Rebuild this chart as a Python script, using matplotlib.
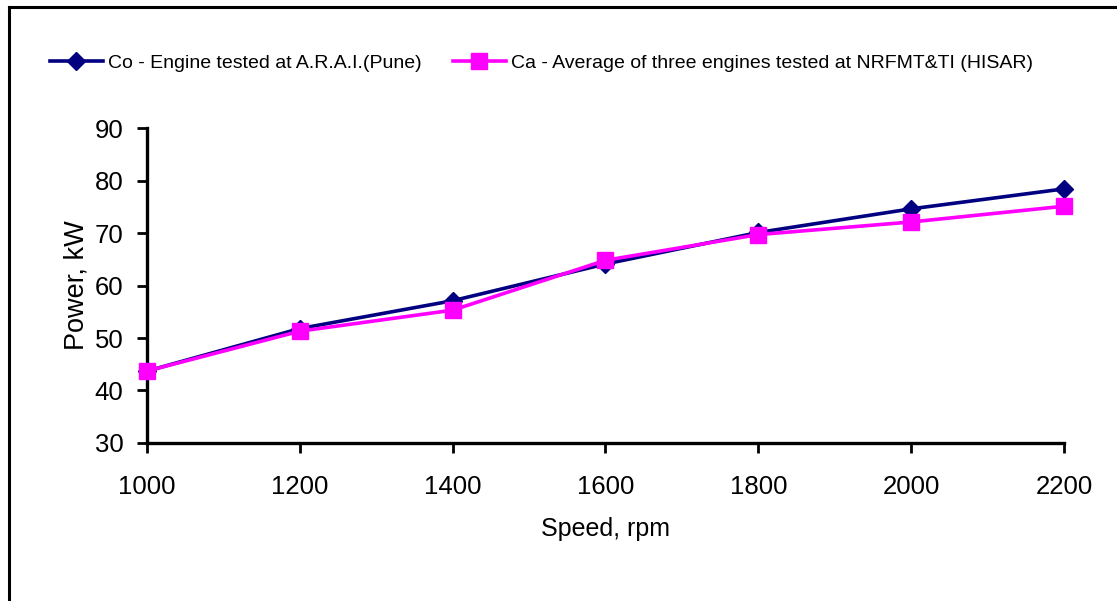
import matplotlib.pyplot as plt
from matplotlib.lines import Line2D

plt.rcParams['font.family'] = ['Liberation Sans', 'DejaVu Sans']

# Data
speed = [1000, 1200, 1400, 1600, 1800, 2000, 2200]
power_arai = [43.7, 51.8, 57.1, 64.1, 70.1, 74.6, 78.4]
power_hisar = [43.7, 51.3, 55.3, 64.8, 69.7, 72.1, 75.1]

label_arai = 'Co - Engine tested at A.R.A.I.(Pune)'
label_hisar = 'Ca - Average of three engines tested at NRFMT&TI (HISAR)'

fig = plt.figure(figsize=(11.17, 6.01), dpi=100)
ax = fig.add_axes([0.1316, 0.2629, 0.8209, 0.5241])

ax.plot(speed, power_arai, color='#000080', lw=2.6, marker='D', ms=9,
        label=label_arai, clip_on=False, zorder=3)
ax.plot(speed, power_hisar, color='#FF00FF', lw=2.6, marker='s', ms=11,
        label=label_hisar, clip_on=False, zorder=4)

ax.set_xlim(1000, 2200)
ax.set_ylim(30, 90)
ax.set_xticks(speed)
ax.set_yticks(range(30, 91, 10))

for s in ['top', 'right']:
    ax.spines[s].set_visible(False)
for s in ['left', 'bottom']:
    ax.spines[s].set_linewidth(2.4)
ax.tick_params(axis='both', direction='out', length=7, width=2, labelsize=18.5)
ax.tick_params(axis='x', pad=16)
ax.tick_params(axis='y', pad=10)

ax.set_xlabel('Speed, rpm', fontsize=18, labelpad=13)
ax.set_ylabel('Power, kW', fontsize=19.5, labelpad=4)

fig.legend(loc='center', bbox_to_anchor=(0.485, 0.895), ncol=2, frameon=False,
           fontsize=14, handlelength=2.7, columnspacing=1.6, handletextpad=0.3)

# partial frame around the figure (top and left edges)
fig.add_artist(Line2D([0.008, 1.0], [0.988, 0.988], color='black', lw=2.2,
                      transform=fig.transFigure))
fig.add_artist(Line2D([0.008, 0.008], [0.0, 0.988], color='black', lw=2.2,
                      transform=fig.transFigure))

fig.savefig('out.png', dpi=100)
